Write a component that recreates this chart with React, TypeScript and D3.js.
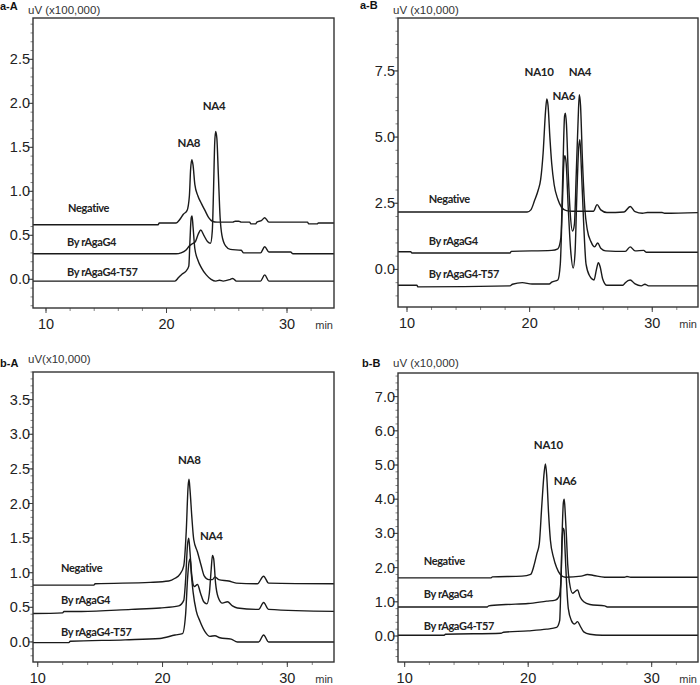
import React from "react";
import * as d3 from "d3";

type Pt = [number, number];

// ---------- DATA (time in min, signal in axis units) ----------
const aA_negative: Pt[] = [[8.9,0.62],[19.3,0.62],[19.4,0.64],[20.8,0.64],[21.1,0.68],[21.4,0.74],[21.7,0.78],[21.9,0.95],[22.0,1.25],[22.1,1.36],[22.2,1.3],[22.35,1.08],[22.6,0.95],[22.9,0.86],[23.2,0.78],[23.5,0.7],[23.8,0.66],[24.2,0.65],[25.5,0.65],[25.7,0.66],[26.0,0.66],[26.2,0.65],[26.9,0.65],[27.0,0.63],[27.4,0.63],[27.5,0.65],[27.9,0.67],[28.15,0.7],[28.5,0.65],[31.7,0.65],[31.8,0.63],[32.5,0.63],[32.6,0.64],[34,0.64]];
const aA_rAgaG4: Pt[] = [[8.9,0.29],[20.8,0.29],[21.2,0.3],[21.6,0.33],[21.9,0.38],[22.1,0.4],[22.4,0.43],[22.65,0.52],[22.85,0.56],[23.1,0.5],[23.4,0.43],[23.65,0.41],[23.8,0.55],[23.9,1.0],[24.0,1.55],[24.08,1.68],[24.18,1.6],[24.3,1.2],[24.45,0.7],[24.6,0.5],[24.9,0.38],[25.3,0.34],[26.2,0.33],[26.4,0.3],[27.8,0.3],[28.15,0.37],[28.5,0.31],[30.3,0.31],[30.5,0.29],[34,0.29]];
const aA_T57: Pt[] = [[8.9,-0.02],[20.7,-0.02],[21.0,0.02],[21.3,0.06],[21.6,0.09],[21.85,0.15],[21.95,0.45],[22.05,0.7],[22.12,0.72],[22.2,0.6],[22.35,0.35],[22.6,0.22],[22.9,0.13],[23.3,0.05],[23.7,0.0],[24.1,-0.02],[24.4,-0.01],[24.7,-0.02],[25.3,0.0],[25.5,0.01],[25.8,-0.02],[27.8,-0.02],[28.15,0.05],[28.5,-0.02],[34,-0.02]];

const aB_negative: Pt[] = [[9.2,2.17],[19.8,2.17],[20.1,2.25],[20.4,2.6],[20.7,3.0],[20.9,3.4],[21.1,4.4],[21.3,6.0],[21.4,6.44],[21.5,6.2],[21.65,5.0],[21.8,4.0],[22.0,3.2],[22.3,2.65],[22.6,2.35],[23.0,2.22],[23.5,2.2],[25.2,2.2],[25.5,2.45],[25.8,2.25],[26.3,2.15],[27.7,2.17],[28.2,2.38],[28.6,2.18],[29.2,2.12],[29.6,2.15],[30.8,2.15],[31.0,2.12],[34,2.15]];
const aB_rAgaG4: Pt[] = [[9.2,0.67],[10.3,0.67],[10.4,0.62],[18.4,0.62],[18.5,0.68],[21.8,0.72],[22.3,0.78],[22.55,1.2],[22.7,3.5],[22.85,5.8],[22.92,5.9],[23.0,5.5],[23.15,3.6],[23.3,2.2],[23.5,1.45],[23.65,1.7],[23.8,3.6],[23.95,5.6],[24.05,6.6],[24.15,6.2],[24.3,4.2],[24.5,2.3],[24.7,1.5],[25.0,1.05],[25.3,0.85],[25.55,1.0],[25.8,0.8],[26.2,0.7],[27.8,0.68],[28.2,0.85],[28.6,0.7],[29.3,0.72],[29.5,0.65],[34,0.65]];
const aB_T57: Pt[] = [[9.2,-0.6],[10.8,-0.6],[10.9,-0.66],[18.4,-0.62],[18.6,-0.56],[19.4,-0.5],[20.2,-0.55],[21.6,-0.55],[21.8,-0.48],[22.3,-0.4],[22.5,0.2],[22.65,2.2],[22.8,4.1],[22.88,4.3],[22.98,4.0],[23.15,2.3],[23.35,0.7],[23.55,0.05],[23.7,0.6],[23.85,2.8],[24.0,4.6],[24.1,4.9],[24.22,3.8],[24.4,1.8],[24.6,0.2],[24.9,-0.25],[25.25,-0.4],[25.45,0.0],[25.6,0.25],[25.75,0.1],[25.95,-0.35],[26.3,-0.6],[27.6,-0.6],[27.8,-0.5],[28.2,-0.4],[28.6,-0.55],[29.1,-0.62],[29.4,-0.56],[29.7,-0.62],[34,-0.62]];

const bA_negative: Pt[] = [[9.5,0.82],[14.5,0.82],[14.6,0.84],[19.0,0.86],[20.5,0.88],[21.0,0.92],[21.4,0.98],[21.7,1.1],[21.9,1.6],[22.05,2.25],[22.12,2.35],[22.2,2.2],[22.35,1.8],[22.5,1.48],[22.8,1.3],[23.1,1.1],[23.35,0.95],[23.7,0.9],[24.0,0.9],[24.2,0.94],[24.5,0.9],[25.3,0.88],[25.9,0.85],[27.6,0.84],[28.1,0.95],[28.5,0.85],[34,0.84]];
const bA_rAgaG4: Pt[] = [[9.5,0.41],[12.0,0.42],[12.1,0.44],[13.5,0.44],[17.5,0.47],[19.8,0.49],[21.3,0.52],[21.7,0.6],[21.85,0.9],[22.0,1.4],[22.1,1.5],[22.2,1.3],[22.35,0.95],[22.55,0.8],[22.8,0.83],[23.05,0.7],[23.3,0.58],[23.55,0.55],[23.75,0.7],[23.9,1.05],[24.0,1.25],[24.1,1.2],[24.25,0.85],[24.45,0.65],[24.8,0.56],[25.2,0.58],[25.6,0.52],[26.0,0.49],[27.7,0.47],[28.1,0.57],[28.5,0.47],[34,0.44]];
const bA_T57: Pt[] = [[9.5,-0.01],[12.5,-0.01],[12.6,0.01],[17.0,0.03],[19.8,0.05],[21.0,0.1],[21.6,0.12],[21.85,0.4],[22.0,0.9],[22.12,1.15],[22.22,1.2],[22.3,1.0],[22.45,0.72],[22.7,0.45],[23.0,0.3],[23.4,0.15],[23.8,0.08],[24.2,0.09],[24.6,0.06],[25.5,0.04],[26.0,0.0],[27.7,0.0],[28.1,0.1],[28.5,0.0],[34,0.0]];

const bB_negative: Pt[] = [[9.4,1.7],[17.0,1.7],[17.1,1.73],[19.5,1.75],[20.2,1.8],[20.5,2.1],[20.7,2.4],[20.9,2.7],[21.1,3.8],[21.3,4.8],[21.4,5.03],[21.5,4.7],[21.65,3.6],[21.8,2.8],[22.05,2.3],[22.3,2.0],[22.6,1.8],[23.0,1.72],[24.3,1.75],[24.8,1.8],[25.3,1.77],[26.2,1.72],[27.8,1.72],[28.0,1.74],[28.3,1.72],[34,1.72]];
const bB_rAgaG4: Pt[] = [[9.4,0.85],[16.7,0.85],[16.8,0.88],[18.2,0.92],[20.0,0.95],[21.5,1.02],[22.2,1.05],[22.5,1.15],[22.65,1.6],[22.75,3.0],[22.85,3.9],[22.92,4.0],[23.0,3.6],[23.1,2.9],[23.2,2.1],[23.35,1.55],[23.6,1.25],[23.8,1.3],[24.0,1.35],[24.2,1.15],[24.5,1.0],[25.0,0.92],[26.2,0.88],[26.4,0.85],[34,0.85]];
const bB_T57: Pt[] = [[9.4,0.02],[13.2,0.02],[13.3,0.05],[17.8,0.08],[18.0,0.11],[20.0,0.15],[21.5,0.2],[22.3,0.25],[22.55,0.45],[22.65,1.5],[22.75,2.8],[22.82,3.15],[22.9,3.1],[23.0,2.4],[23.1,1.6],[23.25,0.8],[23.5,0.45],[23.75,0.35],[24.0,0.42],[24.2,0.3],[24.5,0.12],[25.0,0.05],[26.0,0.02],[34,0.02]];

const traceNames = ["Negative", "By rAgaG4", "By rAgaG4-T57"];
const xMajorTicks = [10, 20, 30];

// ---------- PANEL CONFIG ----------
type Lbl = { text: string; t: number; v: number };
type Panel = {
  id: string; unit: string;
  left: number; right: number; top: number; bottom: number;
  xDomain: [number, number]; yDomain: [number, number];
  yMajor: number; yMinor: number; yMaxLabel: number;
  traces: Pt[][];
  traceLabels: [number, number][];
  peaks: Lbl[];
  idPos: [number, number]; unitPos: [number, number];
};

const panels: Panel[] = [
  {
    id: "a-A", unit: "uV (x100,000)",
    left: 33, right: 334, top: 18, bottom: 308,
    xDomain: [8.92, 33.9], yDomain: [-0.326, 2.97],
    yMajor: 0.5, yMinor: 0.1, yMaxLabel: 2.5,
    traces: [aA_negative, aA_rAgaG4, aA_T57],
    traceLabels: [[11.83, 0.765], [11.75, 0.378], [11.75, 0.037]],
    peaks: [{ text: "NA8", t: 20.92, v: 1.507 }, { text: "NA4", t: 23.0, v: 1.924 }],
    idPos: [0, 10], unitPos: [28, 14],
  },
  {
    id: "a-B", unit: "uV (x10,000)",
    left: 398, right: 698, top: 18, bottom: 307,
    xDomain: [9.265, 33.73], yDomain: [-1.42, 9.5],
    yMajor: 2.5, yMinor: 0.5, yMaxLabel: 7.5,
    traces: [aB_negative, aB_rAgaG4, aB_T57],
    traceLabels: [[11.77, 2.51], [11.77, 0.92], [11.77, -0.33]],
    peaks: [{ text: "NA10", t: 19.59, v: 7.32 }, { text: "NA4", t: 23.18, v: 7.32 }, { text: "NA6", t: 21.87, v: 6.41 }],
    idPos: [360, 9], unitPos: [393, 14],
  },
  {
    id: "b-A", unit: "uV(x10,000)",
    left: 33, right: 334, top: 372, bottom: 662,
    xDomain: [9.62, 33.74], yDomain: [-0.29, 3.9],
    yMajor: 0.5, yMinor: 0.1, yMaxLabel: 3.5,
    traces: [bA_negative, bA_rAgaG4, bA_T57],
    traceLabels: [[11.87, 1.007], [11.87, 0.545], [11.87, 0.082]],
    peaks: [{ text: "NA8", t: 21.24, v: 2.568 }, { text: "NA4", t: 23.0, v: 1.47 }],
    idPos: [0, 367], unitPos: [28, 363],
  },
  {
    id: "b-B", unit: "uV (x10,000)",
    left: 398, right: 698, top: 373, bottom: 662,
    xDomain: [9.46, 33.75], yDomain: [-0.76, 7.69],
    yMajor: 1.0, yMinor: 0.2, yMaxLabel: 7.0,
    traces: [bB_negative, bB_rAgaG4, bB_T57],
    traceLabels: [[11.54, 2.07], [11.54, 1.106], [11.54, 0.167]],
    peaks: [{ text: "NA10", t: 20.46, v: 5.475 }, { text: "NA6", t: 22.08, v: 4.42 }],
    idPos: [362, 367], unitPos: [393, 367],
  },
];

const AXIS_FONT = "'Liberation Sans', Arial, sans-serif";
const LABEL_FONT = "Lato, 'Open Sans', sans-serif";

function range(start: number, stop: number, step: number): number[] {
  const out: number[] = [];
  const n0 = Math.ceil(start / step - 1e-9);
  const n1 = Math.floor(stop / step + 1e-9);
  for (let i = n0; i <= n1; i++) out.push(+(i * step).toFixed(4));
  return out;
}

function PanelView({ p }: { p: Panel }) {
  const x = d3.scaleLinear().domain(p.xDomain).range([p.left, p.right]);
  const y = d3.scaleLinear().domain(p.yDomain).range([p.bottom, p.top]);
  const line = d3.line<Pt>().x((d) => x(d[0])).y((d) => y(d[1])).curve(d3.curveMonotoneX);
  const clipId = `clip-${p.id}`;
  const yMinorTicks = range(p.yDomain[0], p.yDomain[1], p.yMinor);
  const yMajorTicks = range(Math.max(0, p.yDomain[0]), p.yMaxLabel, p.yMajor);
  const xMinor = range(p.xDomain[0], p.xDomain[1], 2);
  return (
    <g>
      <defs>
        <clipPath id={clipId}>
          <rect x={p.left} y={p.top} width={p.right - p.left} height={p.bottom - p.top} />
        </clipPath>
      </defs>
      {yMinorTicks.map((v) => (
        <line key={"ym" + v} x1={p.left - 2.5} x2={p.left} y1={y(v)} y2={y(v)} stroke="#666" strokeWidth={0.8} />
      ))}
      {yMajorTicks.map((v) => (
        <g key={"yM" + v}>
          <line x1={p.left - 5} x2={p.left} y1={y(v)} y2={y(v)} stroke="#444" strokeWidth={1} />
          <text x={p.left - 3} y={y(v)} dy="0.35em" textAnchor="end" fontFamily={AXIS_FONT} fontSize={14.5} fill="#222">
            {v.toFixed(1)}
          </text>
        </g>
      ))}
      {xMinor.map((t) => (
        <line key={"xm" + t} x1={x(t)} x2={x(t)} y1={p.bottom} y2={p.bottom + 3} stroke="#666" strokeWidth={0.8} />
      ))}
      {xMajorTicks.map((t) => (
        <g key={"xM" + t}>
          <line x1={x(t)} x2={x(t)} y1={p.bottom} y2={p.bottom + 5} stroke="#444" strokeWidth={1} />
          <text x={x(t)} y={p.bottom + 21} textAnchor="middle" fontFamily={AXIS_FONT} fontSize={14.5} fill="#222">
            {t}
          </text>
        </g>
      ))}
      <text x={p.right - 1} y={p.bottom + 21} textAnchor="end" fontFamily={AXIS_FONT} fontSize={11} fill="#333">min</text>
      <g clipPath={`url(#${clipId})`}>
        {p.traces.map((tr, i) => (
          <path key={i} d={line(tr) || ""} fill="none" stroke="#1a1a1a" strokeWidth={1.4} strokeLinejoin="round" />
        ))}
      </g>
      <rect x={p.left} y={p.top} width={p.right - p.left} height={p.bottom - p.top} fill="none" stroke="#333" strokeWidth={1.4} />
      {p.traceLabels.map((pos, i) => (
        <text key={"tl" + i} x={x(pos[0])} y={y(pos[1])} fontFamily={LABEL_FONT} fontWeight={700} fontSize={11} letterSpacing={-0.35} fill="#222">
          {traceNames[i]}
        </text>
      ))}
      {p.peaks.map((pk) => (
        <text key={pk.text} x={x(pk.t)} y={y(pk.v)} fontFamily={LABEL_FONT} fontWeight={700} fontSize={11.5} letterSpacing={-0.3} fill="#222">
          {pk.text}
        </text>
      ))}
      <text x={p.idPos[0]} y={p.idPos[1]} fontFamily={AXIS_FONT} fontWeight={700} fontSize={11} fill="#111">{p.id}</text>
      <text x={p.unitPos[0]} y={p.unitPos[1]} fontFamily={AXIS_FONT} fontSize={11.5} fill="#333">{p.unit}</text>
    </g>
  );
}

export default function App() {
  return (
    <svg width={700} height={685} style={{ position: "absolute", left: 0, top: 0, background: "#fff" }}>
      <rect width={700} height={685} fill="#fff" />
      {panels.map((p) => (
        <PanelView key={p.id} p={p} />
      ))}
    </svg>
  );
}
